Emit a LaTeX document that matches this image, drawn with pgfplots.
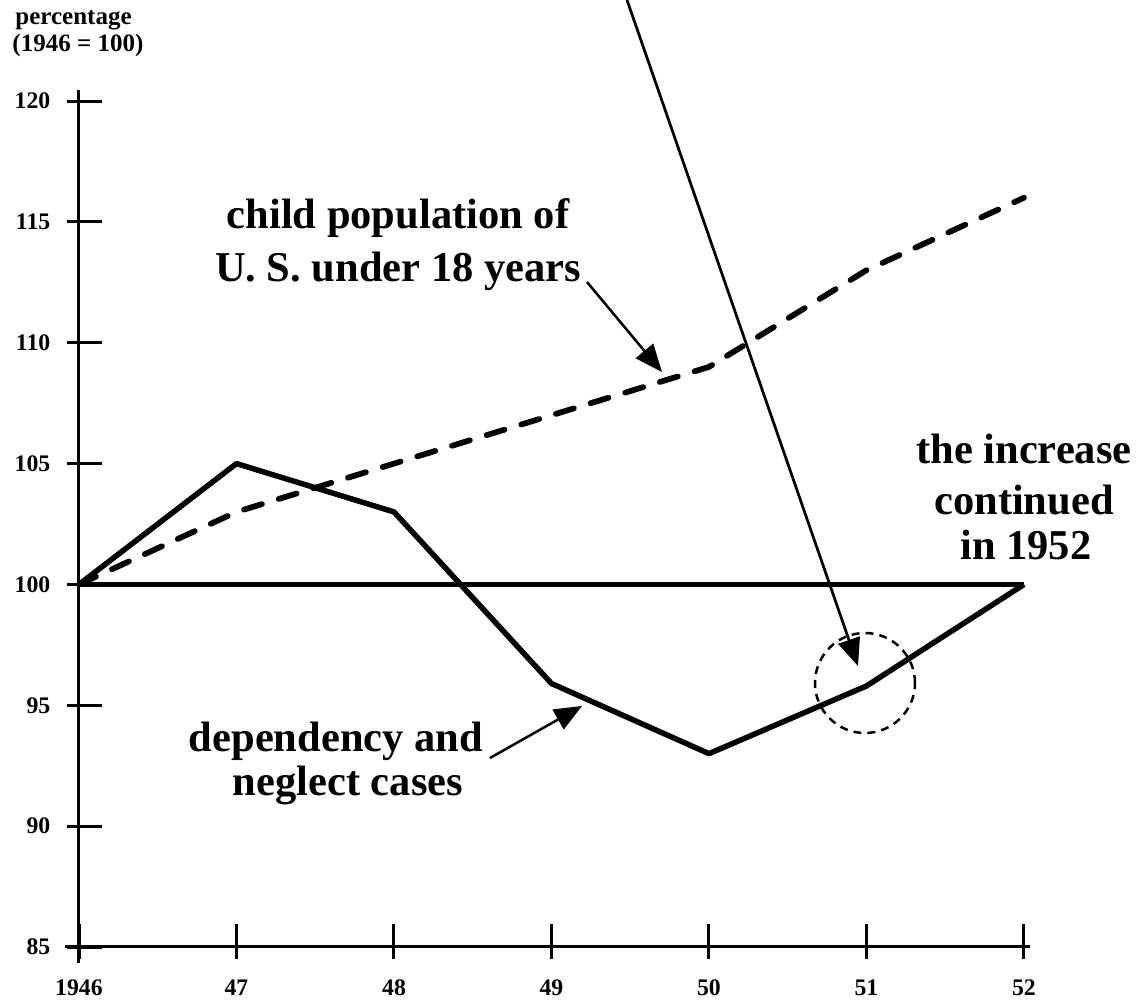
\documentclass[border=0pt]{standalone}
\usepackage{pgfplots}
\pgfplotsset{compat=1.18}
\usepackage{fontspec}
\setmainfont{Liberation Serif}
\usetikzlibrary{arrows.meta}
\begin{document}
\begin{tikzpicture}
\path[use as bounding box] (-31.6pt,-21.2pt) rectangle (423.2pt,378.8pt);
\begin{axis}[
  at={(0,0)}, anchor=south west, scale only axis,
  width=378pt, height=338.4pt,
  xmin=1946, xmax=1952, ymin=85, ymax=120,
  axis line style={draw=none},
  clip=false,
  xtick pos=lower, ytick pos=left,
  xtick={1946,1947,1948,1949,1950,1951,1952},
  xticklabels={1946,47,48,49,50,51,52},
  ytick={85,90,95,100,105,110,115,120},
  tick align=center, major tick length=14pt,
  every tick/.style={black, line width=1.2pt},
  xtick style={yshift=2.2pt}, ytick style={xshift=2.2pt},
  ticklabel style={font=\fontsize{9.5}{10}\selectfont\bfseries},
  xticklabel style={yshift=-2.2pt, text height=6.5pt, text depth=0pt},
  yticklabel style={xshift=-1pt},
  /pgf/number format/assume math mode=true,
  /pgf/number format/1000 sep={},
]
\addplot[black, line width=2pt] coordinates {(1946,100) (1952,100)};
\addplot[black, line width=2.2pt, line join=round] coordinates {
(1946,100) (1947,105) (1948,103) (1949,95.9) (1950,93) (1951,95.8) (1952,100)};
\addplot[black, line width=2.3pt, line cap=round, dash pattern=on 7.5pt off 7pt] coordinates {
(1946,100) (1947,103) (1948,105) (1949,107) (1950,109) (1951,113) (1952,116)};
\end{axis}
\begin{scope}[x=0.4pt, y=-0.4pt, shift={(-31.6pt,378.8pt)}]
  % axis lines
  \draw[line width=1.2pt] (79,90) -- (79,963);
  \draw[line width=1.2pt] (65,947) -- (1030,947);
  % y label
  \node[anchor=west, font=\fontsize{10}{11}\selectfont\bfseries, inner sep=0pt] at (15,20) {percentage};
  \node[anchor=west, font=\fontsize{10}{11}\selectfont\bfseries, inner sep=0pt] at (12,45) {(1946 = 100)};
  % annotations
  \node[font=\fontsize{17}{18}\selectfont\bfseries] at (398,218) {child population of};
  \node[font=\fontsize{17}{18}\selectfont\bfseries] at (398,271) {U. S. under 18 years};
  \node[font=\fontsize{17}{18}\selectfont\bfseries] at (1024,449) {the increase};
  \node[font=\fontsize{17}{18}\selectfont\bfseries] at (1024,500) {continued};
  \node[font=\fontsize{17}{18}\selectfont\bfseries] at (1026,545) {in 1952};
  \node[font=\fontsize{17}{18}\selectfont\bfseries] at (336,741) {dependency and};
  \node[font=\fontsize{17}{18}\selectfont\bfseries] at (348,785) {neglect cases};
  % arrows
  \draw[line width=1.1pt, -{Triangle[length=11pt,width=9pt]}] (627,0) -- (858,666);
  \draw[line width=1pt, -{Triangle[length=11pt,width=9pt]}] (587,282) -- (662,372);
  \draw[line width=1pt, -{Triangle[length=11pt,width=9pt]}] (490,758) -- (582,706);
  % circle
  \draw[line width=1pt, dash pattern=on 3.2pt off 2.4pt] (865,683) circle[radius=20pt];
\end{scope}
\end{tikzpicture}
\end{document}
